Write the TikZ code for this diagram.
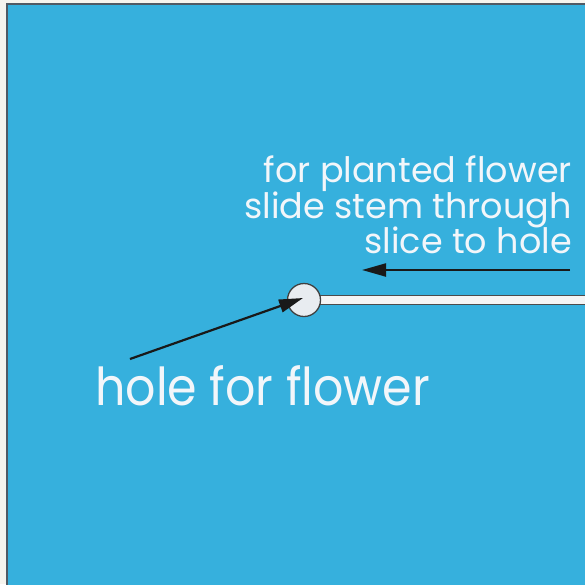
\documentclass[tikz,border=0pt]{standalone}
\usepackage{fontspec}
\usepackage{graphicx}
\setmainfont{Poppins}
\usetikzlibrary{arrows.meta,calc}
\definecolor{bgblue}{RGB}{54,176,221}
\definecolor{margin}{RGB}{246,244,238}
\definecolor{edge}{RGB}{80,90,100}
\definecolor{holefill}{RGB}{232,236,240}
\definecolor{txtwhite}{RGB}{242,246,250}
\newcommand{\tallish}[1]{\scalebox{1}[1.1]{#1}}
\begin{document}
\begin{tikzpicture}[x=1pt,y=-1pt,
  smalltxt/.style={text=txtwhite, font=\fontsize{35}{38}\selectfont, inner sep=0pt},
  bigtxt/.style={text=txtwhite, font=\fontsize{47.5}{52}\selectfont, inner sep=0pt},
  pointer/.style={line width=2.2pt, draw=black!90, -{Triangle[length=24pt,width=13pt]}}]
\useasboundingbox (0,0) rectangle (585,584);
\fill[margin] (0,0) rectangle (585,584);
\fill[bgblue] (7,4) rectangle (590,590);
\draw[edge, line width=1.5pt] (7,590) -- (7,4) -- (590,4);
% slot
\draw[fill=white!92!gray, draw=black!70, line width=1.3pt] (318,295.5) rectangle (592,304.5);
% hole
\node[circle, minimum size=33pt, inner sep=0pt, draw=black!75, line width=1.3pt, fill=holefill] (hole) at (304,300) {};
% texts
\node[smalltxt, anchor=base east] (l1) at (572,182) {for planted flower};
\node[smalltxt, anchor=base east] (l2) at (572,218) {slide stem through};
\node[smalltxt, anchor=base east] (l3) at (572,253) {slice to hole};
\node[bigtxt, anchor=base west] (lbl) at (95,405) {\tallish{hole for flower}};
% arrows
\coordinate (a1s) at (570,270);
\coordinate (a1e) at (362,270);
\draw[pointer] (a1s) -- (a1e);
\coordinate (a2s) at (130,359);
\draw[pointer] (a2s) -- ($(hole.center)+(-1,-2)$);
\end{tikzpicture}
\end{document}
